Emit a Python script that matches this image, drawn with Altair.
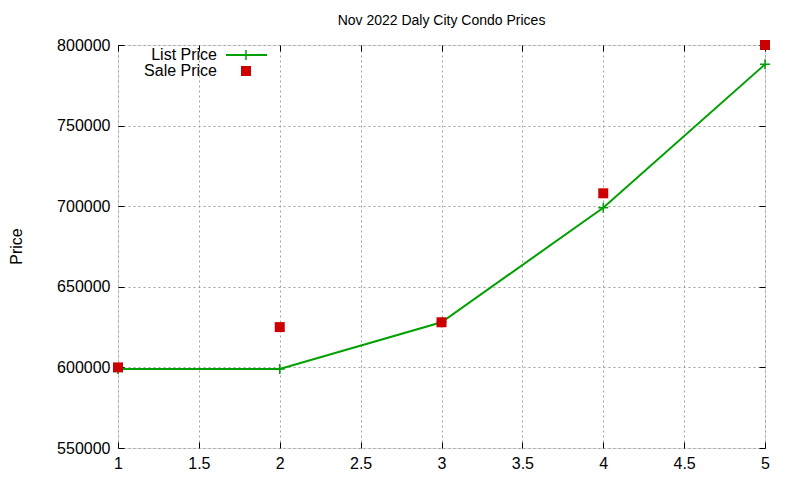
import pandas as pd
import altair as alt

# Condo prices by listing rank
rank = [1, 2, 3, 4, 5]
list_price = [599000, 599000, 628000, 699000, 788000]
sale_price = [600000, 625000, 628000, 708000, 800000]

FONT = "Liberation Sans"
GREEN = "#00a000"
RED = "#cc0000"
PLUS = "M-1,0H1M0,-1V1"

df = pd.DataFrame({"rank": rank, "list": list_price, "sale": sale_price})

x_scale = alt.Scale(domain=[1, 5], nice=False, zero=False)
y_scale = alt.Scale(domain=[550000, 800000], nice=False, zero=False)
x_vals = [1, 1.5, 2, 2.5, 3, 3.5, 4, 4.5, 5]
y_vals = [550000, 600000, 650000, 700000, 750000, 800000]

# Labelled axes with the dotted grid
x_axis = alt.Axis(values=x_vals, format="~g", grid=True, gridColor="#a0a0a0",
                  gridDash=[2, 3], tickSize=0, domain=False, labelPadding=7,
                  labelFont=FONT, labelFontSize=16, labelColor="black",
                  labelFlush=False, title=None)
y_axis = alt.Axis(values=y_vals, format="d", grid=True, gridColor="#a0a0a0",
                  gridDash=[2, 3], tickSize=0, domain=False, labelPadding=8,
                  labelFont=FONT, labelFontSize=16, labelColor="black",
                  title="Price", titleFont=FONT, titleFontSize=16,
                  titleFontWeight="normal", titleColor="black", titleAngle=270,
                  titleX=-102, titleY=201, titleAlign="center", titleBaseline="middle")


# Tick-only axes pulled inside the frame, like gnuplot's inward ticks
def tick_axis(vals, orient):
    return alt.Axis(values=vals, orient=orient, offset=-6, tickSize=6,
                    tickColor="black", labels=False, domain=False, grid=False,
                    title=None)


base = alt.Chart(df)

list_line = base.mark_line(color=GREEN, strokeWidth=2).encode(
    x=alt.X("rank:Q", scale=x_scale, axis=x_axis),
    y=alt.Y("list:Q", scale=y_scale, axis=y_axis),
)

list_marks = base.mark_point(shape=PLUS, size=100, color=GREEN, strokeWidth=1.5,
                             filled=False, opacity=1).encode(
    x=alt.X("rank:Q", scale=x_scale, axis=tick_axis(x_vals, "bottom")),
    y=alt.Y("list:Q", scale=y_scale, axis=tick_axis(y_vals, "left")),
)

sale_marks = base.mark_point(shape="square", size=100, color=RED, filled=True,
                             opacity=1).encode(
    x=alt.X("rank:Q", scale=x_scale, axis=tick_axis(x_vals, "top")),
    y=alt.Y("sale:Q", scale=y_scale, axis=tick_axis(y_vals, "right")),
)

# Key in the top-left corner, text left of the sample
one = alt.Data(values=[{}])
key_style = dict(font=FONT, fontSize=16, color="black", align="right", baseline="middle")
key_list_text = alt.Chart(one).mark_text(text="List Price", **key_style).encode(
    x=alt.value(99), y=alt.value(10))
key_sale_text = alt.Chart(one).mark_text(text="Sale Price", **key_style).encode(
    x=alt.value(99), y=alt.value(26))
key_line = alt.Chart(one).mark_rule(color=GREEN, strokeWidth=2).encode(
    x=alt.value(108), x2=alt.value(149), y=alt.value(10))
key_plus = alt.Chart(one).mark_point(shape=PLUS, size=100, color=GREEN,
                                     strokeWidth=1.5, opacity=1).encode(
    x=alt.value(128), y=alt.value(10))
key_square = alt.Chart(one).mark_point(shape="square", size=100, color=RED,
                                       filled=True, opacity=1).encode(
    x=alt.value(128), y=alt.value(26))

chart = alt.layer(
    list_line, list_marks, sale_marks,
    key_list_text, key_sale_text, key_line, key_plus, key_square,
).resolve_axis(x="independent", y="independent").properties(
    width=647,
    height=403,
    autosize=alt.AutoSizeParams(type="none"),
    padding={"left": 110, "top": 37, "right": 26, "bottom": 24},
    title=alt.TitleParams("Nov 2022 Daly City Condo Prices", font=FONT, fontSize=14,
                          fontWeight="normal", color="black", anchor="middle",
                          offset=9),
).configure_view(stroke="black", strokeWidth=1).configure(background="white")

chart.save("out.html", embed_options={"renderer": "svg", "actions": False})
